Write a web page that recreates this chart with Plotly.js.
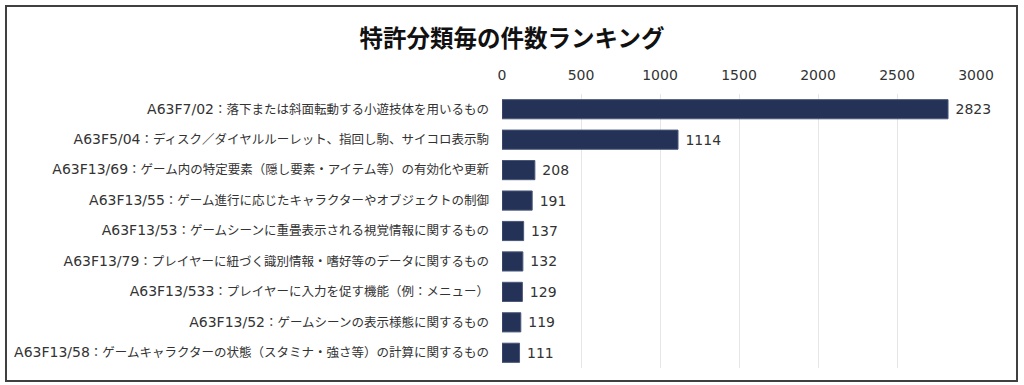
<!DOCTYPE html>
<html>
<head>
<meta charset="utf-8">
<script src="https://cdn.plot.ly/plotly-3.0.1.min.js"></script>
<style>
html,body{margin:0;padding:0;background:#fff;}
#wrap{position:relative;width:1024px;height:385px;}
#chart{position:absolute;left:0;top:0;width:1024px;height:385px;}
#frame{position:absolute;left:5px;top:5px;width:1009px;height:373px;border:2px solid #404040;pointer-events:none;}
</style>
</head>
<body>
<div id="wrap"><div id="chart"></div><div id="frame"></div></div>
<script>
const categories = [
  "A63F7/02：落下または斜面転動する小遊技体を用いるもの",
  "A63F5/04：ディスク／ダイヤルルーレット、指回し駒、サイコロ表示駒",
  "A63F13/69：ゲーム内の特定要素（隠し要素・アイテム等）の有効化や更新",
  "A63F13/55：ゲーム進行に応じたキャラクターやオブジェクトの制御",
  "A63F13/53：ゲームシーンに重畳表示される視覚情報に関するもの",
  "A63F13/79：プレイヤーに紐づく識別情報・嗜好等のデータに関するもの",
  "A63F13/533：プレイヤーに入力を促す機能（例：メニュー）",
  "A63F13/52：ゲームシーンの表示様態に関するもの",
  "A63F13/58：ゲームキャラクターの状態（スタミナ・強さ等）の計算に関するもの"
];
const counts = [2823, 1114, 208, 191, 137, 132, 129, 119, 111];
const xTicks = [0, 500, 1000, 1500, 2000, 2500, 3000];
const titleText = "特許分類毎の件数ランキング";

const fontFam = "Verdana, 'DejaVu Sans', 'Noto Sans CJK JP', sans-serif";

// style the code part of each label slightly larger (display only)
const tickText = categories.map(c => {
  const i = c.indexOf("：");
  return '<span style="font-size:14px">' + c.slice(0, i) + '</span>' + c.slice(i);
});

const trace = {
  type: 'bar',
  orientation: 'h',
  y: categories,
  x: counts,
  text: counts.map(v => ' ' + v),
  textposition: 'outside',
  cliponaxis: false,
  textfont: {family: fontFam, size: 14, color: '#333333'},
  marker: {color: '#243257', line: {color: '#4a5778', width: 1}},
  hoverinfo: 'none'
};

const layout = {
  width: 1024, height: 385,
  margin: {l: 502, r: 48, t: 94, b: 17, pad: 0},
  paper_bgcolor: '#ffffff', plot_bgcolor: '#ffffff',
  bargap: 0.37,
  showlegend: false,
  title: {
    text: '<b>' + titleText + '</b>',
    font: {family: "'Noto Sans CJK JP', sans-serif", size: 23.5, color: '#111111'},
    x: 0.5, xanchor: 'center', y: 0.9, yanchor: 'middle'
  },
  xaxis: {
    side: 'top', range: [0, 3000], tickvals: xTicks, ticktext: xTicks.map(String),
    showgrid: true, gridcolor: '#e6e6e6', gridwidth: 1,
    zeroline: false, showline: false, ticks: '', ticklabelstandoff: 10,
    tickfont: {family: fontFam, size: 14, color: '#333333'}
  },
  yaxis: {
    type: 'category', autorange: 'reversed', showgrid: false, zeroline: false,
    showline: false, ticks: '', ticklabelstandoff: 12,
    tickvals: categories, ticktext: tickText,
    tickfont: {family: fontFam, size: 12.5, color: '#333333'}
  }
};

Plotly.newPlot('chart', [trace], layout, {staticPlot: true, displayModeBar: false});
</script>
</body>
</html>
